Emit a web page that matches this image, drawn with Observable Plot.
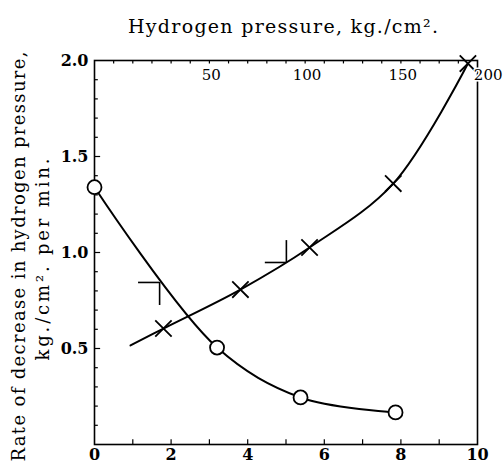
<!DOCTYPE html>
<html><head><meta charset="utf-8">
<script src="https://cdn.jsdelivr.net/npm/d3@7"></script>
<script src="https://cdn.jsdelivr.net/npm/@observablehq/plot@0.6"></script>
<style>body{margin:0;background:#fff}</style>
</head><body><div id="chart"></div>
<script>
// Bottom axis (unlabelled quantity), circles series
const circleX = [0, 3.2, 5.38, 7.86];
const circleRate = [1.34, 0.505, 0.245, 0.167];
// Top axis: hydrogen pressure (kg./cm²), crosses series
const crossPressure = [18.8, 36, 76.2, 112.3, 156, 195];
const crossRate = [0.516, 0.604, 0.807, 1.026, 1.359, 1.984];
const crossMarked = [false, true, true, true, true, true];
// Flag marks
const flagX = [1.70, 5.01];
const flagY = [0.844, 0.948];
const flagLeft = [1.15, 4.46];
const flagEnd = [0.724, 1.062];
// Axis ticks
const bottomTicks = [0, 1, 2, 3, 4, 5, 6, 7, 8, 9, 10];
const bottomLabels = [0, 2, 4, 6, 8, 10];
const yMinorTicks = d3.range(1, 20).map(i => i / 10);
const yLabels = [0.5, 1.0, 1.5, 2.0];
const pressureTicks = d3.range(10, 200, 10);
const pressureLabels = [50, 100, 150];
const pressureEndLabel = [200];
const title = "Hydrogen pressure, kg./cm².";
const yTitle1 = "Rate of decrease in hydrogen pressure,";
const yTitle2 = "kg./cm². per min.";

const P_MAX = 200, X_MAX = 10;
const p2x = p => p / P_MAX * X_MAX;

const circles = circleX.map((x, i) => ({x, y: circleRate[i]}));
const crosses = crossPressure.map((p, i) => ({x: p2x(p), y: crossRate[i], m: crossMarked[i]}));
const flags = flagX.map((x, i) => ({x, y: flagY[i], left: flagLeft[i], end: flagEnd[i]}));

const serif = "DejaVu Serif";
const chart = Plot.plot({
  width: 503, height: 470,
  marginLeft: 94, marginRight: 26, marginTop: 60, marginBottom: 26,
  x: {domain: [0, 10], axis: null},
  y: {domain: [0, 2], axis: null},
  style: {fontFamily: serif, background: "white", color: "black", overflow: "visible"},
  marks: [
    Plot.frame({stroke: "black", strokeWidth: 1.6}),
    Plot.ruleY(yMinorTicks, {y: d => d, x1: 0, x2: d => (Math.abs(d * 2 - Math.round(d * 2)) < 1e-6 ? 0.16 : 0.1), stroke: "black", strokeWidth: 1.2}),
    Plot.ruleX(bottomTicks.slice(1, -1), {x: d => d, y1: 0, y2: 0.025, stroke: "black", strokeWidth: 1.2}),
    Plot.ruleX(pressureTicks, {x: p => p2x(p), y1: 2, y2: 1.982, stroke: "black", strokeWidth: 1.2}),
    Plot.line(circles, {x: "x", y: "y", curve: "catmull-rom", stroke: "black", strokeWidth: 2}),
    Plot.line(crosses, {x: "x", y: "y", curve: "catmull-rom", stroke: "black", strokeWidth: 2}),
    Plot.ruleY(flags, {y: "y", x1: "left", x2: "x", stroke: "black", strokeWidth: 1.6}),
    Plot.ruleX(flags, {x: "x", y1: "y", y2: "end", stroke: "black", strokeWidth: 1.6}),
    Plot.dot(circles, {x: "x", y: "y", r: 7, fill: "white", stroke: "black", strokeWidth: 1.8}),
    Plot.dot(crosses.filter(d => d.m), {x: "x", y: "y", r: 7.5, symbol: "times", stroke: "black", strokeWidth: 1.8}),
    Plot.text(yLabels, {x: 0, y: d => d, text: d => d.toFixed(1), textAnchor: "end", dx: -6, fontSize: 16, fontWeight: "bold"}),
    Plot.text(bottomLabels, {x: d => d, y: 0, text: d => String(d), lineAnchor: "top", dy: 4, fontSize: 16, fontWeight: "bold"}),
    Plot.text(pressureLabels, {x: p => p2x(p), y: 2, text: d => String(d), lineAnchor: "top", dy: 9, dx: 21, fontSize: 15}),
    Plot.text(pressureEndLabel, {x: p => p2x(p), y: 2, text: d => String(d), lineAnchor: "top", textAnchor: "end", dy: 9, dx: 25, fontSize: 15, stroke: "white", strokeWidth: 3, fill: "black"}),
    Plot.text([title], {frameAnchor: "top", text: d => d, dy: -34, dx: -3, lineAnchor: "middle", textAnchor: "middle", fontSize: 19}),
    Plot.text([yTitle1], {frameAnchor: "left", text: d => d, rotate: -90, dx: -75, dy: 4, lineAnchor: "middle", textAnchor: "middle", fontSize: 18}),
    Plot.text([yTitle2], {frameAnchor: "left", text: d => d, rotate: -90, dx: -51, dy: 7, lineAnchor: "middle", textAnchor: "middle", fontSize: 18})
  ]
});
// widen the titles' letter spacing to match the printed figure
const spread = new Map([[title, 310], [yTitle1, 410], [yTitle2, 202]]);
d3.select(chart).selectAll("text").each(function () {
  const L = spread.get(this.textContent);
  if (L) d3.select(this).attr("textLength", L).attr("lengthAdjust", "spacing");
});
document.getElementById("chart").appendChild(chart);
</script>
</body></html>
